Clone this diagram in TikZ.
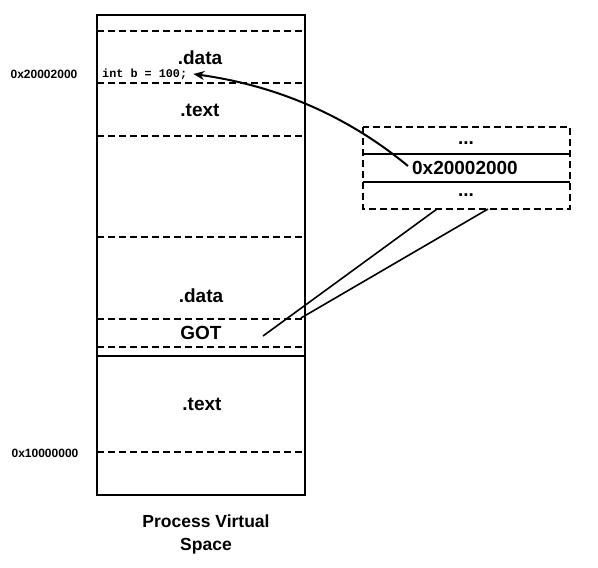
\documentclass[tikz,border=0pt]{standalone}
\usepackage{fontspec}
\setmainfont{Liberation Sans}
\newfontfamily\codefont{Liberation Mono}
\usetikzlibrary{arrows.meta,calc}
\begin{document}
\begin{tikzpicture}[x=1pt,y=-1pt,
  seg/.style={line width=2pt,dash pattern=on 7pt off 4pt},
  border/.style={line width=1.4pt},
  big/.style={font=\fontsize{19}{22}\selectfont\bfseries,inner sep=1pt},
  small/.style={font=\fontsize{12}{14}\selectfont\bfseries,inner sep=1pt},
  code/.style={font=\fontsize{11.8}{13}\selectfont\codefont\bfseries,inner sep=1pt},
  captiontext/.style={font=\fontsize{17.5}{23}\selectfont\bfseries,align=center,inner sep=0pt},
  link/.style={line width=1.6pt}]
\useasboundingbox (0,0) rectangle (598,568);
% main process space box
\draw[border] (97,15) rectangle (305,495);
\draw[seg] (97,31) -- (305,31);
\draw[seg] (97,83) -- (305,83);
\draw[seg] (97,136) -- (305,136);
\draw[seg] (97,237) -- (305,237);
\draw[seg] (97,319) -- (305,319);
\draw[seg] (97,347) -- (305,347);
\draw[border] (97,356) -- (305,356);
\draw[seg] (97,452) -- (305,452);
\node[big] (data1) at (200,58) {.data};
\node[code,anchor=west] (intb) at (101,74) {int b = 100;};
\node[big] (text1) at (200,110) {.text};
\node[big] (data2) at (201,296) {.data};
\node[big] (got) at (201,333) {GOT};
\node[big] (text2) at (202,404) {.text};
\node[small] (a1) at (44,74) {0x20002000};
\node[small] (a2) at (45,453) {0x10000000};
\node[captiontext] (title) at (206,534) {Process Virtual\\Space};
% GOT table box
\draw[border] (363,154) -- (570,154);
\draw[border] (363,182) -- (570,182);
\draw[seg] (363,127) rectangle (570,209);
\node[big] (dots1) at (466,143) {...};
\node[big] (addr) at (465,168) {0x20002000};
\node[big] (dots2) at (466,195) {...};
% callout wedge
\coordinate (c1) at (437,209);
\coordinate (c2) at (488,209);
\coordinate (tip) at (263,336);
\coordinate (tip2) at (301,318);
\draw[link] (c1) -- (tip);
\draw[link] (c2) -- (tip2);
% arrow
\draw[line width=2pt,-{Stealth[length=11pt,width=9pt]}]
  ($(addr.west)+(-3,-2)$) .. controls (350,118) and (280,86) .. ($(intb.east)+(5,0)$);
\end{tikzpicture}
\end{document}
